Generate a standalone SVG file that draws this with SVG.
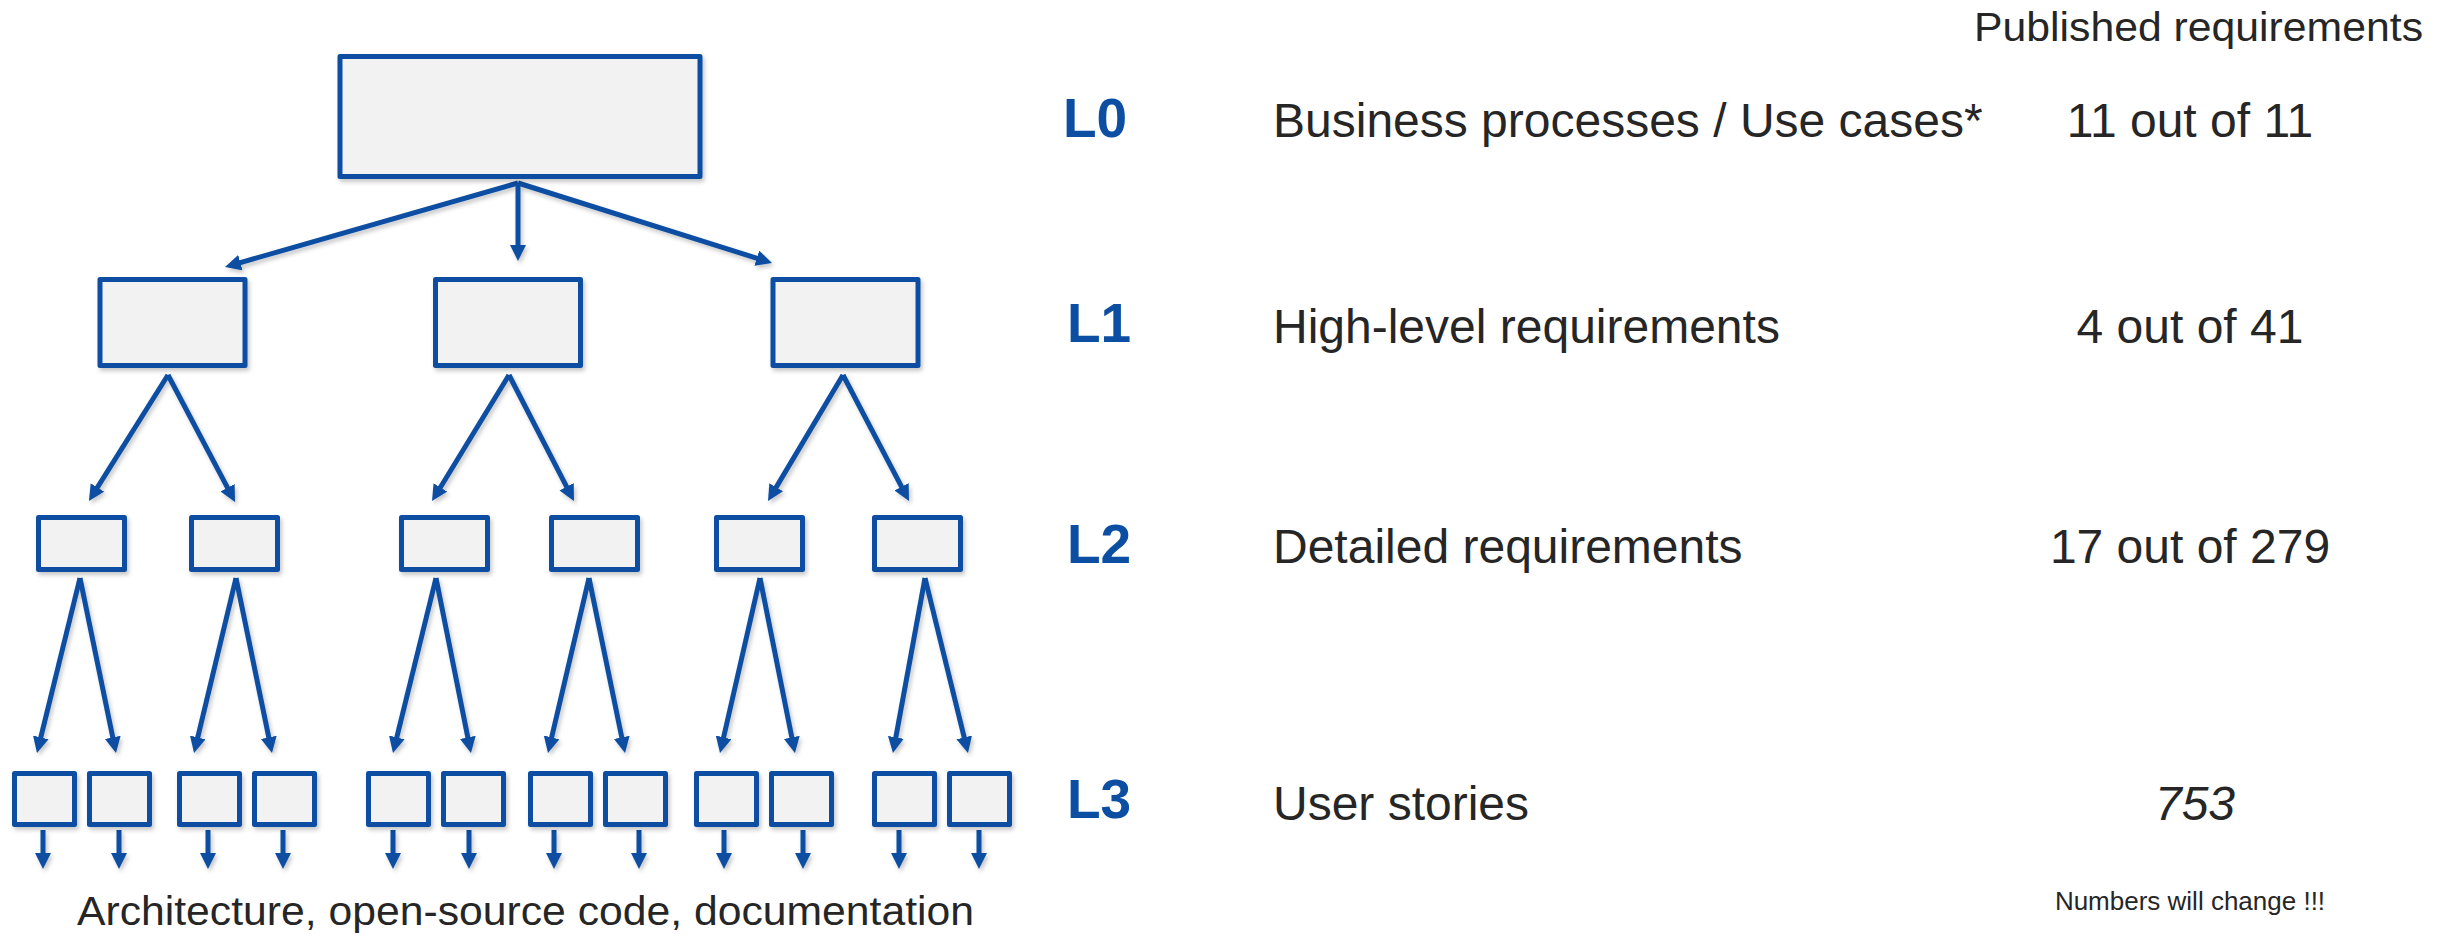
<svg xmlns="http://www.w3.org/2000/svg" width="2438" height="935" viewBox="0 0 2438 935">
<defs>
<style>
.box{fill:#F2F2F2;stroke:#0B4EA2;stroke-width:5;stroke-linejoin:round}
.arr{stroke:#0B4EA2;stroke-width:5;fill:none;marker-end:url(#ah)}
.dn{stroke:#0B4EA2;stroke-width:5;fill:none;marker-end:url(#ah)}
.t{font-family:"Liberation Sans",Arial,Helvetica,sans-serif;fill:#262626}
.lv{font-family:"Liberation Sans",Arial,Helvetica,sans-serif;font-weight:bold;font-size:55px;fill:#0B4EA2}
.m{font-size:48px}
</style>
<marker id="ah" markerUnits="userSpaceOnUse" markerWidth="18" markerHeight="18" refX="8" refY="8" orient="auto" viewBox="0 0 18 18">
<path d="M0,0 L16,8 L0,16 Z" fill="#0B4EA2"/>
</marker>
<filter id="sh" x="-20%" y="-20%" width="140%" height="140%">
<feDropShadow dx="2" dy="3" stdDeviation="2" flood-color="#000" flood-opacity="0.22"/>
</filter>
</defs>
<rect width="2438" height="935" fill="#FFFFFF"/>

<g id="connectors" filter="url(#sh)">
<line class="arr" x1="518" y1="183" x2="232.7" y2="264.8"/>
<line class="arr" x1="518" y1="183" x2="518" y2="253"/>
<line class="arr" x1="518" y1="183" x2="764.4" y2="260.6"/>
<line class="arr" x1="168" y1="375" x2="93.2" y2="494.2"/>
<line class="arr" x1="168" y1="375" x2="231.3" y2="494.9"/>
<line class="arr" x1="509" y1="375" x2="436.2" y2="494.2"/>
<line class="arr" x1="509" y1="375" x2="570.3" y2="493.9"/>
<line class="arr" x1="843" y1="375" x2="772.1" y2="494.1"/>
<line class="arr" x1="843" y1="375" x2="905.3" y2="493.9"/>
<line class="arr" x1="80" y1="578" x2="38.9" y2="745.2"/>
<line class="arr" x1="80" y1="578" x2="114.4" y2="745.2"/>
<line class="arr" x1="236" y1="578" x2="195.9" y2="745.2"/>
<line class="arr" x1="236" y1="578" x2="270.4" y2="745.2"/>
<line class="arr" x1="436" y1="578" x2="394.9" y2="745.2"/>
<line class="arr" x1="436" y1="578" x2="469.4" y2="745.2"/>
<line class="arr" x1="589" y1="578" x2="549.8" y2="745.2"/>
<line class="arr" x1="589" y1="578" x2="623.4" y2="745.2"/>
<line class="arr" x1="760" y1="578" x2="721.8" y2="745.2"/>
<line class="arr" x1="760" y1="578" x2="793.4" y2="745.2"/>
<line class="arr" x1="925" y1="578" x2="894.4" y2="745.2"/>
<line class="arr" x1="925" y1="578" x2="966.1" y2="745.2"/>
<line class="dn" x1="43" y1="830" x2="43" y2="861"/>
<line class="dn" x1="119" y1="830" x2="119" y2="861"/>
<line class="dn" x1="208" y1="830" x2="208" y2="861"/>
<line class="dn" x1="283" y1="830" x2="283" y2="861"/>
<line class="dn" x1="393" y1="830" x2="393" y2="861"/>
<line class="dn" x1="469" y1="830" x2="469" y2="861"/>
<line class="dn" x1="554" y1="830" x2="554" y2="861"/>
<line class="dn" x1="639" y1="830" x2="639" y2="861"/>
<line class="dn" x1="724" y1="830" x2="724" y2="861"/>
<line class="dn" x1="803" y1="830" x2="803" y2="861"/>
<line class="dn" x1="899" y1="830" x2="899" y2="861"/>
<line class="dn" x1="979" y1="830" x2="979" y2="861"/>
</g>

<g filter="url(#sh)">
<g id="n-l0"><rect class="box" x="340" y="56.5" width="360" height="120"/></g>
<g id="n-l1a"><rect class="box" x="100" y="279.5" width="145" height="86"/></g>
<g id="n-l1b"><rect class="box" x="435.5" y="279.5" width="145" height="86"/></g>
<g id="n-l1c"><rect class="box" x="773" y="279.5" width="145" height="86"/></g>
<g id="n-l2a"><rect class="box" x="38.5" y="517.5" width="86" height="52"/></g>
<g id="n-l2b"><rect class="box" x="191.5" y="517.5" width="86" height="52"/></g>
<g id="n-l2c"><rect class="box" x="401.5" y="517.5" width="86" height="52"/></g>
<g id="n-l2d"><rect class="box" x="551.5" y="517.5" width="86" height="52"/></g>
<g id="n-l2e"><rect class="box" x="716.5" y="517.5" width="86" height="52"/></g>
<g id="n-l2f"><rect class="box" x="874.5" y="517.5" width="86" height="52"/></g>
<g id="n-l3a"><rect class="box" x="14.5" y="773.5" width="60" height="51"/></g>
<g id="n-l3b"><rect class="box" x="89.5" y="773.5" width="60" height="51"/></g>
<g id="n-l3c"><rect class="box" x="179.5" y="773.5" width="60" height="51"/></g>
<g id="n-l3d"><rect class="box" x="254.5" y="773.5" width="60" height="51"/></g>
<g id="n-l3e"><rect class="box" x="368.5" y="773.5" width="60" height="51"/></g>
<g id="n-l3f"><rect class="box" x="443.5" y="773.5" width="60" height="51"/></g>
<g id="n-l3g"><rect class="box" x="530.5" y="773.5" width="60" height="51"/></g>
<g id="n-l3h"><rect class="box" x="605.5" y="773.5" width="60" height="51"/></g>
<g id="n-l3i"><rect class="box" x="696.5" y="773.5" width="60" height="51"/></g>
<g id="n-l3j"><rect class="box" x="771.5" y="773.5" width="60" height="51"/></g>
<g id="n-l3k"><rect class="box" x="874.5" y="773.5" width="60" height="51"/></g>
<g id="n-l3l"><rect class="box" x="949.5" y="773.5" width="60" height="51"/></g>
</g>

<g id="caption-bottom">
<text class="t" x="77" y="925" font-size="40" textLength="897" lengthAdjust="spacingAndGlyphs">Architecture, open-source code, documentation</text>
</g>

<g id="header">
<text class="t" x="1974" y="41" font-size="40" textLength="449" lengthAdjust="spacingAndGlyphs">Published requirements</text>
</g>

<g id="row-l0">
<text class="lv" x="1063" y="137">L0</text>
<text class="t m" x="1273" y="137">Business processes / Use cases*</text>
<text class="t m" x="2190" y="137" text-anchor="middle">11 out of 11</text>
</g>
<g id="row-l1">
<text class="lv" x="1067" y="342">L1</text>
<text class="t m" x="1273" y="343">High-level requirements</text>
<text class="t m" x="2190" y="343" text-anchor="middle">4 out of 41</text>
</g>
<g id="row-l2">
<text class="lv" x="1067" y="563">L2</text>
<text class="t m" x="1273" y="563">Detailed requirements</text>
<text class="t m" x="2190" y="563" text-anchor="middle">17 out of 279</text>
</g>
<g id="row-l3">
<text class="lv" x="1067" y="818">L3</text>
<text class="t m" x="1273" y="820">User stories</text>
<text class="t m" x="2195" y="820" text-anchor="middle" font-style="italic">753</text>
</g>
<g id="note">
<text class="t" x="2190" y="910" font-size="26" text-anchor="middle">Numbers will change !!!</text>
</g>
</svg>
